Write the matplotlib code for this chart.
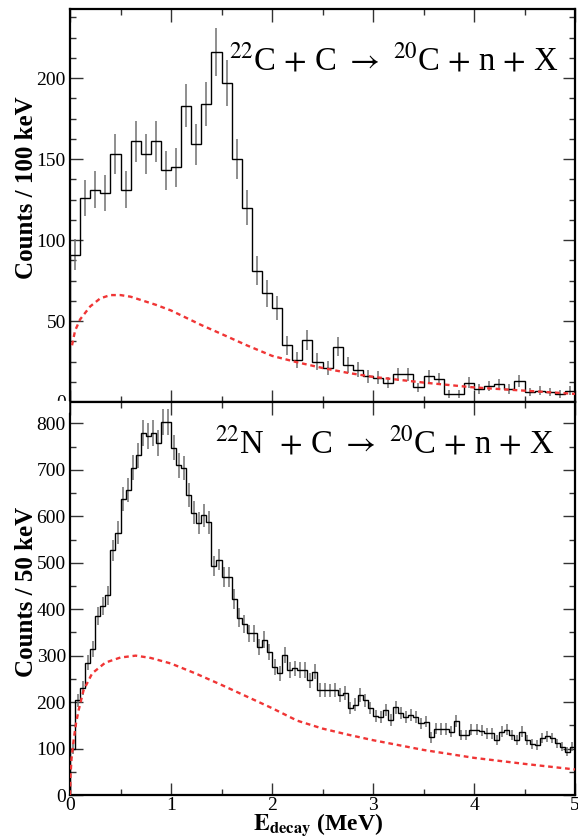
import matplotlib
matplotlib.use("Agg")
import matplotlib.pyplot as plt
from matplotlib.patches import Rectangle
from matplotlib.ticker import MultipleLocator
import numpy as np

plt.rcParams['font.family'] = ['Liberation Serif', 'DejaVu Serif']
plt.rcParams['mathtext.fontset'] = 'stix'

# --- data ---
e_max = 5.0

# 22C + C, counts per 100 keV
bin_top = 0.1
counts_top = [91, 126, 131, 129, 153, 131, 161, 153, 161, 143,
              145, 183, 159, 184, 216, 197, 150, 120, 81, 67,
              58, 35, 26, 38, 25, 21, 34, 23, 20, 16,
              15, 12, 17, 17, 9, 16, 14, 5, 5, 12,
              8, 10, 11, 8, 13, 6, 7, 6, 5, 7]

# 22N + C, counts per 50 keV
bin_bot = 0.05
counts_bot = [99, 204, 230, 285, 314, 385, 407, 430, 527, 565,
              637, 656, 705, 731, 780, 773, 780, 758, 803, 803,
              748, 710, 704, 646, 608, 585, 602, 587, 493, 506,
              470, 470, 422, 382, 368, 348, 348, 319, 334, 308,
              276, 262, 301, 269, 273, 269, 269, 247, 265, 226,
              226, 225, 226, 215, 219, 187, 194, 215, 204, 187,
              170, 167, 183, 161, 189, 176, 167, 172, 167, 154,
              158, 124, 143, 142, 142, 136, 160, 129, 129, 141,
              140, 138, 133, 133, 118, 136, 141, 129, 118, 136,
              118, 110, 108, 122, 126, 122, 111, 104, 93, 104]

# red dashed background curves
bg_top_e = [0.02, 0.05, 0.1, 0.2, 0.3, 0.4, 0.5, 0.6, 0.7, 0.85, 1.0, 1.15, 1.3,
            1.5, 1.75, 2.0, 2.25, 2.5, 2.75, 3.0, 3.5, 4.0, 4.5, 5.0]
bg_top_y = [35, 44, 51, 59, 64, 66, 66, 65, 63, 60, 56.5, 52, 47.5,
            42, 35, 28.5, 24.5, 21, 18, 15.5, 12, 9, 7, 5]

bg_bot_e = [0.0, 0.005, 0.015, 0.036, 0.06, 0.086, 0.135, 0.22, 0.35, 0.5, 0.65,
            0.8, 1.0, 1.25, 1.5, 1.75, 2.0, 2.25, 2.5, 2.75, 3.0, 3.5, 4.0, 4.5, 5.0]
bg_bot_y = [0, 42, 78, 118, 155, 183, 226, 262, 285, 296, 300,
            295, 283, 261, 237, 212, 187, 160, 143, 130, 118, 97, 80, 67, 55]

label_top = r'$^{22}$C $+$ C $\rightarrow$ $^{20}$C $+$ n $+$ X'
label_bot = r'$^{22}$N  $+$ C $\rightarrow$ $^{20}$C $+$ n $+$ X'


def draw_panel(ax, counts, width, bg_e, bg_y):
    counts = np.array(counts, dtype=float)
    edges = np.arange(len(counts) + 1) * width
    centers = edges[:-1] + width / 2
    ax.errorbar(centers, counts, yerr=np.sqrt(counts), fmt='none',
                ecolor='#707070', elinewidth=1.1, capsize=0, zorder=2)
    ax.stairs(counts, edges, baseline=0, color='black', lw=1.0, zorder=3)
    ax.plot(bg_e, bg_y, color='#f03535', lw=1.7, ls=(0, (2.0, 1.6)), zorder=4)
    ax.set_xlim(0, e_max)
    ax.xaxis.set_major_locator(MultipleLocator(1))
    ax.xaxis.set_minor_locator(MultipleLocator(0.5))
    ax.tick_params(which='both', direction='in', top=True, right=True,
                   labelsize=14, width=1.0, color='#333333')
    ax.tick_params(which='major', length=9)
    ax.tick_params(which='minor', length=4.5)
    ax.tick_params(axis='y', pad=3)
    ax.tick_params(axis='x', pad=1.5)
    for s in ax.spines.values():
        s.set_linewidth(1.6)


fig = plt.figure(figsize=(5.78, 8.36), dpi=100)
ax1 = fig.add_axes([70 / 578, (836 - 402) / 836, 505 / 578, 393 / 836])
ax2 = fig.add_axes([70 / 578, (836 - 795) / 836, 505 / 578, 393 / 836])

draw_panel(ax1, counts_top, bin_top, bg_top_e, bg_top_y)
ax1.set_ylim(0, 242.6)
ax1.yaxis.set_major_locator(MultipleLocator(50))
ax1.yaxis.set_minor_locator(MultipleLocator(12.5))
ax1.tick_params(labelbottom=False)
ax1.text(4.835, 205, label_top, fontsize=23.6, ha='right', va='baseline')

draw_panel(ax2, counts_bot, bin_bot, bg_bot_e, bg_bot_y)
ax2.set_ylim(0, 846)
ax2.yaxis.set_major_locator(MultipleLocator(100))
ax2.yaxis.set_minor_locator(MultipleLocator(50))
ax2.text(4.80, 736, label_bot, fontsize=23.6, ha='right', va='baseline')

# top panel's "0" is half hidden behind the lower panel
fig.patches.append(Rectangle((0, (836 - 412) / 836), 68 / 578, 11 / 836,
                             transform=fig.transFigure, color='white', zorder=10))

fig.text(27 / 578, (836 - 188) / 836, 'Counts / 100 keV', rotation=90,
         ha='center', va='center', fontsize=18, fontweight='bold')
fig.text(27 / 578, (836 - 592) / 836, 'Counts / 50 keV', rotation=90,
         ha='center', va='center', fontsize=18, fontweight='bold')
fig.text(318 / 578, (836 - 830) / 836, r'$\mathbf{E_{decay}}$ (MeV)',
         ha='center', va='baseline', fontsize=17, fontweight='bold')

fig.savefig('out.png', dpi=100)
